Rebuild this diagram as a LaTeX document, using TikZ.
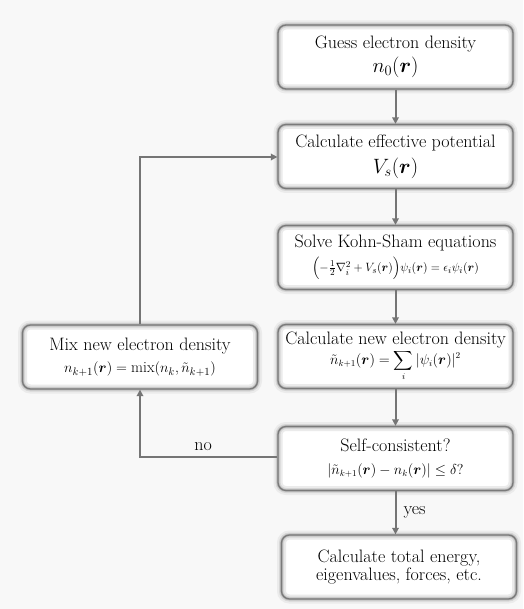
\documentclass[tikz,border=0pt]{standalone}
\usepackage{amsmath,amssymb,bm}
\usepackage{fontspec}
\usetikzlibrary{arrows.meta,positioning}
\definecolor{bgc}{HTML}{F8F8F8}
\definecolor{linec}{HTML}{757575}
\definecolor{edgec}{HTML}{7A7A7A}
\newcommand{\heavy}{\addfontfeatures{FakeBold=1.5}}
\tikzset{
  flowbox/.style={rounded corners=8pt, minimum width=235pt, minimum height=64pt,
    align=center, inner sep=2pt,
    preaction={fill=white},
    preaction={draw=black!8, line width=9pt},
    preaction={draw=black!16, line width=5pt},
    preaction={draw=black!28, line width=2.6pt},
    draw=edgec, line width=1.3pt, font=\fontsize{18}{19}\selectfont\heavy},
  flowline/.style={draw=linec, line width=2pt},
  flowarrow/.style={flowline, -{Triangle[width=6.5pt,length=6.5pt]}},
  lbl/.style={font=\fontsize{18}{20}\selectfont\heavy, inner sep=1pt}
}
\begin{document}
\begin{tikzpicture}[x=1pt,y=-1pt]
\fill[bgc] (0,0) rectangle (523,609);
\useasboundingbox (0,0) rectangle (523,609);

\node[flowbox] (guess) at (395.5,57) {Guess electron density\\[4pt]
  {\fontsize{21}{22}\selectfont $n_0(\bm r)$}};
\node[flowbox] (pot) at (395.5,156.5) {Calculate effective potential\\[6pt]
  {\fontsize{21}{22}\selectfont $V_s(\bm r)$}};
\node[flowbox] (ks) at (395.5,257.5) {Solve Kohn-Sham equations\\[5pt]
  {\fontsize{12.5}{13}\selectfont $\Bigl(-\frac12\nabla_i^2+V_s(\bm r)\Bigr)\psi_i(\bm r)=\epsilon_i\psi_i(\bm r)$}};
\node[flowbox] (new) at (395.5,356.5) {Calculate new electron density\\[1pt]
  {\fontsize{13.5}{14}\selectfont $\displaystyle\tilde n_{k+1}(\bm r)=\sum_i|\psi_i(\bm r)|^2$}};
\node[flowbox] (self) at (395.5,458.5) {Self-consistent?\\[4pt]
  {\fontsize{13.5}{14}\selectfont $|\tilde n_{k+1}(\bm r)-n_k(\bm r)|\le\delta?$}};
\node[flowbox] (final) at (399,567) {Calculate total energy,\\[-1pt] eigenvalues, forces, etc.};
\node[flowbox] (mix) at (140,357) {Mix new electron density\\[3pt]
  {\fontsize{15.5}{16}\selectfont $n_{k+1}(\bm r)=\operatorname{mix}(n_k,\tilde n_{k+1})$}};

\draw[flowarrow] (guess.south) -- (pot.north);
\draw[flowarrow] (pot.south) -- (ks.north);
\draw[flowarrow] (ks.south) -- (new.north);
\draw[flowarrow] (new.south) -- (self.north);
\draw[flowarrow] (self.south) -- node[lbl, right=6pt] (yes) {yes} (final.north -| self.south);
\draw[flowarrow] (self.west |- 0,457) -| node[lbl, pos=0.27, above=4pt] (no) {no} (mix.south);
\draw[flowarrow] (mix.north) |- (pot.west |- 0,157);
\end{tikzpicture}
\end{document}
